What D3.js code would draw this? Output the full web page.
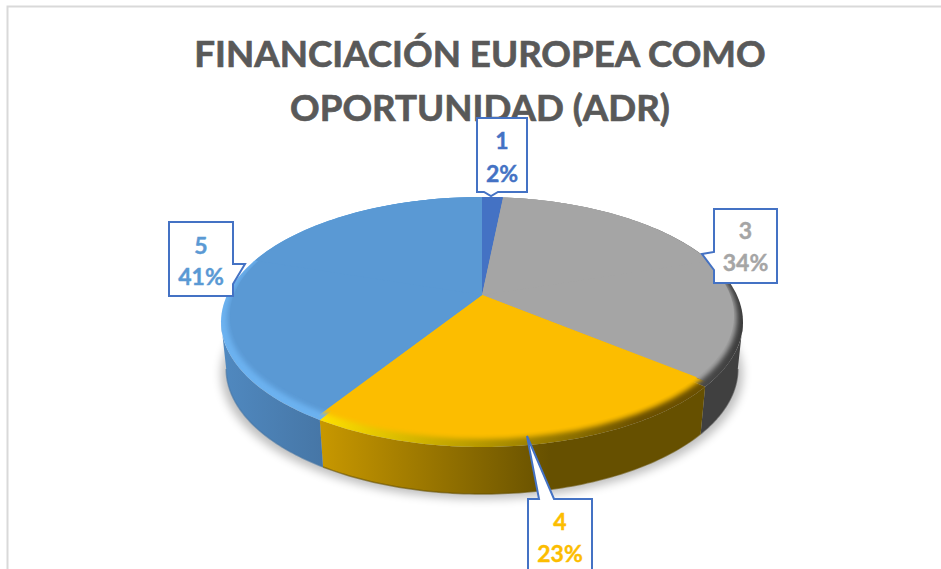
<!DOCTYPE html>
<html><head><meta charset="utf-8">
<script src="https://cdnjs.cloudflare.com/ajax/libs/d3/7.8.5/d3.min.js"></script>
<style>html,body{margin:0;padding:0;background:#fff}svg{display:block}text{font-family:Lato,"Open Sans",sans-serif;font-weight:700}</style>
</head><body><div id="c"></div>
<script>
const titleLines = ["FINANCIACIÓN EUROPEA COMO", "OPORTUNIDAD (ADR)"];
const categories = ["1", "3", "4", "5"];
const values = [1.6, 34.4, 23, 41];
const colors = ["#4472c4", "#a5a5a5", "#fcbd00", "#5a99d4"];
const rimLight = ["#4472c4", "#8a8a8a", "#ffe000", "#6cb2f0"];
const rimDark = ["#4472c4", "#3c3c3c", "#6b5000", "#6cb2f0"];
const sideA = ["#355a9c", "#404040", "#c89800", "#5089c0"];
const sideB = ["#355a9c", "#404040", "#665000", "#4676a6"];

const W = 941, H = 569;
const svg = d3.select("#c").append("svg").attr("width", W).attr("height", H);
const defs = svg.append("defs");
defs.append("filter").attr("id", "blur2").attr("x", "-10%").attr("y", "-10%").attr("width", "120%").attr("height", "120%")
  .append("feGaussianBlur").attr("stdDeviation", 2.6);
defs.append("filter").attr("id", "blurS").attr("x", "-10%").attr("y", "-10%").attr("width", "120%").attr("height", "120%")
  .append("feGaussianBlur").attr("stdDeviation", 5);

// frame
svg.append("path").attr("d", `M7.5 ${H}V6.5H${W}`).attr("fill", "none").attr("stroke", "#d9d9d9").attr("stroke-width", 2);

// title
svg.append("g").selectAll("text").data(titleLines).join("text")
  .attr("x", 480).attr("y", (d, i) => 67 + i * 54)
  .attr("text-anchor", "middle").attr("font-size", 36.7).attr("fill", "#595959")
  .attr("stroke", "#595959").attr("stroke-width", 0.7).text(d => d);

// perspective projection of a pie disc: angle -> screen point
const cx = 482, apexY = 295;
function disc(topH, botH, rx) {
  const k = -(botH - topH) / (botH + topH);
  const b = topH * (1 - k);
  const a = rx * Math.sqrt(1 - k * k);
  const fn = t => {
    const X = Math.sin(t), Y = -Math.cos(t), w = 1 + k * Y;
    return [cx + a * X / w, apexY + b * Y / w];
  };
  fn.k = k;
  return fn;
}
const outer = disc(98, 152, 261);
const inner = disc(98, 144, 255);
const crisp = disc(98, 139, 252);
const base = t => { const p = outer(t); return [cx + (p[0] - cx) * 0.98, p[1] + 47]; };

const pieData = d3.pie().sort(null).value(d => d)(values);
const arcPts = (fn, a0, a1) => d3.range(0, 81).map(i => fn(a0 + (a1 - a0) * i / 80));
const line = d3.line();
const faceD = (fn, d) => line([[cx, apexY], ...arcPts(fn, d.startAngle, d.endAngle)]) + "Z";

// the rounded rim turns its slice joints slightly toward the front
const front = t => (t > Math.PI / 2 && t < 1.5 * Math.PI) ? Math.PI + (t - Math.PI) * 0.965 : t;
const rimD = d => line([[cx, apexY], ...arcPts(outer, front(d.startAngle), front(d.endAngle))]) + "Z";

const tR = Math.acos(outer.k), tL = 2 * Math.PI - tR;
const xGrad = (id, x0, x1, stops) => {
  const g = defs.append("linearGradient").attr("id", id).attr("gradientUnits", "userSpaceOnUse")
    .attr("x1", x0).attr("x2", x1).attr("y1", 0).attr("y2", 0);
  stops.forEach(s => g.append("stop").attr("offset", s[0]).attr("stop-color", s[1]));
};

// shadow
svg.append("path").attr("d", line(arcPts(t => { const p = base(t); return [p[0] + (p[0] - cx) * 0.02, p[1] + 5]; }, 0, 2 * Math.PI)) + "Z")
  .attr("fill", "#000").attr("opacity", 0.25).attr("filter", "url(#blurS)");

// sides
const sideG = svg.append("g");
pieData.forEach((d, i) => {
  const a0 = Math.max(front(d.startAngle), tR), a1 = Math.min(front(d.endAngle), tL);
  if (a1 <= a0) return;
  const top = arcPts(outer, a0, a1), bot = arcPts(base, a0, a1).reverse();
  const xs = top.concat(bot).map(p => p[0]);
  if (i === 2) xGrad("side" + i, d3.max(xs), d3.min(xs), [[0, sideB[i]], [0.4, sideB[i]], [1, sideA[i]]]);
  else xGrad("side" + i, d3.min(xs), d3.max(xs), [[0, sideA[i]], [1, sideB[i]]]);
  sideG.append("path").attr("d", line(top.concat(bot)) + "Z").attr("fill", `url(#side${i})`);
  sideG.append("path").attr("d", line(arcPts(base, a0, a1))).attr("fill", "none")
    .attr("stroke", sideB[i]).attr("stroke-opacity", 0.6).attr("stroke-width", 1.5);
});

// top faces: rim, then softly blurred main colour clipped to the slice
const faceG = svg.append("g");
pieData.forEach((d, i) => {
  const xs = arcPts(outer, d.startAngle, d.endAngle).map(p => p[0]);
  xGrad("rim" + i, i === 2 ? 320 : d3.min(xs), i === 2 ? 640 : d3.max(xs), [[0, rimLight[i]], [1, rimDark[i]]]);
  faceG.append("path").attr("d", rimD(d)).attr("fill", `url(#rim${i})`);
});
pieData.forEach((d, i) => {
  const clipId = "clip" + i;
  defs.append("clipPath").attr("id", clipId).append("path").attr("d", faceD(outer, d));
  faceG.append("g").attr("clip-path", `url(#${clipId})`)
    .append("path").attr("d", line(arcPts(inner, 0, 2 * Math.PI)) + "Z")
    .attr("fill", colors[i]).attr("filter", "url(#blur2)");
  faceG.append("path").attr("d", faceD(crisp, d)).attr("fill", colors[i]);
});
// the back edge stays the flat main colour
pieData.forEach((d, i) => {
  const pts = arcPts(outer, d.startAngle, d.endAngle).filter(p => p[1] < 262);
  if (pts.length > 1) faceG.append("path").attr("d", line([[cx, apexY], ...pts]) + "Z").attr("fill", colors[i]);
});

// callouts
const callouts = [
  { i: 0, x: 477, w: 50, path: "M477 118H527V192H498L491 196L484 192H477Z", ty: [149, 182] },
  { i: 1, x: 714, w: 63, path: "M714 209H777V283H714V270L702 254L714 252Z", ty: [239, 271] },
  { i: 3, x: 169, w: 64, path: "M169 222H233V264H245L233 284V296H169Z", ty: [254, 285] },
  { i: 2, x: 528, w: 64, path: "M528 499H539L527 436L554 499H592V590H528Z", ty: [530, 562] }
];
const cG = svg.append("g");
callouts.forEach(c => {
  cG.append("path").attr("d", c.path).attr("fill", "#fff").attr("stroke", "#4472c4").attr("stroke-width", 2);
  [categories[c.i], d3.format(".0f")(values[c.i]) + "%"].forEach((t, j) => {
    cG.append("text").attr("x", c.x + c.w / 2).attr("y", c.ty[j]).attr("text-anchor", "middle")
      .attr("font-size", 23).attr("fill", colors[c.i]).attr("stroke", colors[c.i]).attr("stroke-width", 0.4).text(t);
  });
});
</script></body></html>
